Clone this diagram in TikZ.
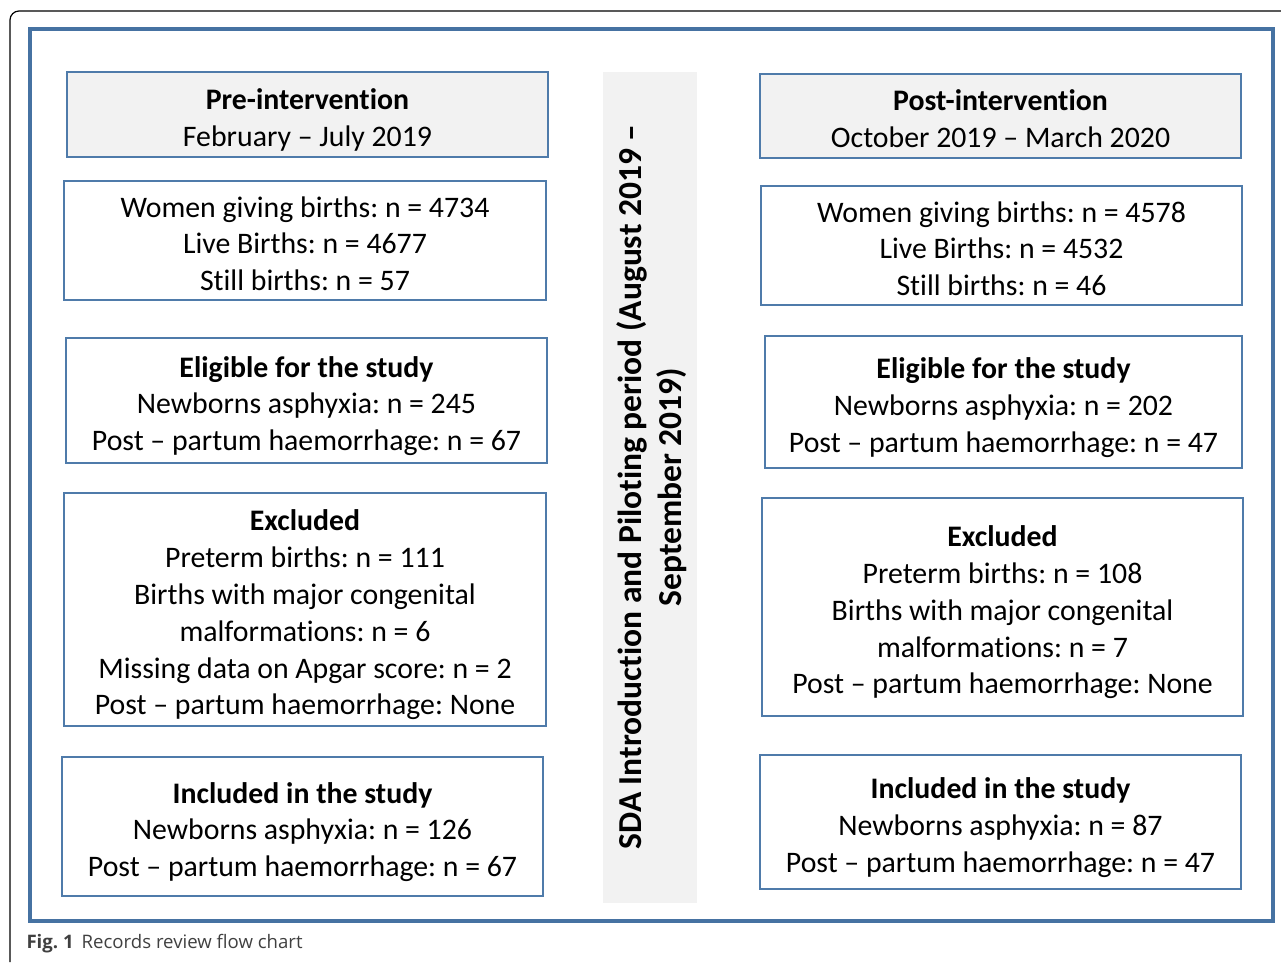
\documentclass[tikz,border=0pt]{standalone}
\usepackage{fontspec}
\setmainfont[Ligatures=NoCommon]{Carlito}
\newfontfamily\capfont{Open Sans}
\definecolor{frameblue}{RGB}{70,114,162}
\definecolor{boxblue}{RGB}{79,123,170}
\definecolor{boxgray}{RGB}{242,242,242}
\newsavebox{\txtbox}
\newcommand{\boxtext}[1]{\sbox{\txtbox}{\begin{tabular}{@{}c@{}}#1\end{tabular}}%
  \raisebox{-6pt}[\ht\txtbox][\dp\txtbox]{\usebox{\txtbox}}}
\begin{document}
\frenchspacing
\begin{tikzpicture}[x=1pt,y=-1pt,
  fbox/.style={draw=boxblue,line width=1.3pt,inner sep=0pt,
    font=\fontsize{29.8}{36.8}\selectfont,anchor=center},
  gbox/.style={fbox,fill=boxgray}]
\useasboundingbox (0,0) rectangle (1281,962);
% outer figure frame
\draw[line width=1.2pt,rounded corners=9pt] (10,962) -- (10,11) -- (1281,11);
% blue frame
\draw[frameblue,line width=4pt] (29.5,28.5) rectangle (1273,921);
% middle bar
\fill[boxgray] (603,72) rectangle (697,903);
\node[rotate=90,align=center,font=\fontsize{33.5}{40}\selectfont\bfseries] (mid) at (652,487)
  {SDA Introduction and Piloting period (August 2019 --\\September 2019)};
% left column
\node[gbox,minimum width=481pt,minimum height=85pt] (pre) at (307.5,114.5)
  {\boxtext{\textbf{Pre-intervention}\\February -- July 2019}};
\node[fbox,minimum width=482pt,minimum height=119pt] (lw) at (305,240.5)
  {\boxtext{Women giving births: n = 4734\\Live Births: n = 4677\\Still births: n = 57}};
\node[fbox,minimum width=481pt,minimum height=125pt] (le) at (306.5,400.5)
  {\boxtext{\textbf{Eligible for the study}\\Newborns asphyxia: n = 245\\Post -- partum haemorrhage: n = 67}};
\node[fbox,minimum width=482pt,minimum height=233pt] (lx) at (305,609.5)
  {\boxtext{\textbf{Excluded}\\Preterm births: n = 111\\Births with major congenital\\malformations: n = 6\\Missing data on Apgar score: n = 2\\Post -- partum haemorrhage: None}};
\node[fbox,minimum width=481pt,minimum height=139pt] (li) at (302.5,826.5)
  {\boxtext{\textbf{Included in the study}\\Newborns asphyxia: n = 126\\Post -- partum haemorrhage: n = 67}};
% right column
\node[gbox,minimum width=481pt,minimum height=84pt] (post) at (1000.5,116)
  {\boxtext{\textbf{Post-intervention}\\October 2019 -- March 2020}};
\node[fbox,minimum width=481pt,minimum height=119pt] (rw) at (1001.5,245.5)
  {\boxtext{Women giving births: n = 4578\\Live Births: n = 4532\\Still births: n = 46}};
\node[fbox,minimum width=477pt,minimum height=132pt] (re) at (1003.5,402)
  {\boxtext{\textbf{Eligible for the study}\\Newborns asphyxia: n = 202\\Post -- partum haemorrhage: n = 47}};
\node[fbox,minimum width=481pt,minimum height=218pt] (rx) at (1002.5,607)
  {\boxtext{\textbf{Excluded}\\Preterm births: n = 108\\Births with major congenital\\malformations: n = 7\\Post -- partum haemorrhage: None}};
\node[fbox,minimum width=481pt,minimum height=134pt] (ri) at (1000.5,822)
  {\boxtext{\textbf{Included in the study}\\Newborns asphyxia: n = 87\\Post -- partum haemorrhage: n = 47}};
% caption
\node[anchor=west,font=\capfont\fontsize{18.6}{22}\selectfont,text=black!75] (cap) at (23,944)
  {\textbf{Fig. 1}\hspace{8pt}Records review flow chart};
\end{tikzpicture}
\end{document}
